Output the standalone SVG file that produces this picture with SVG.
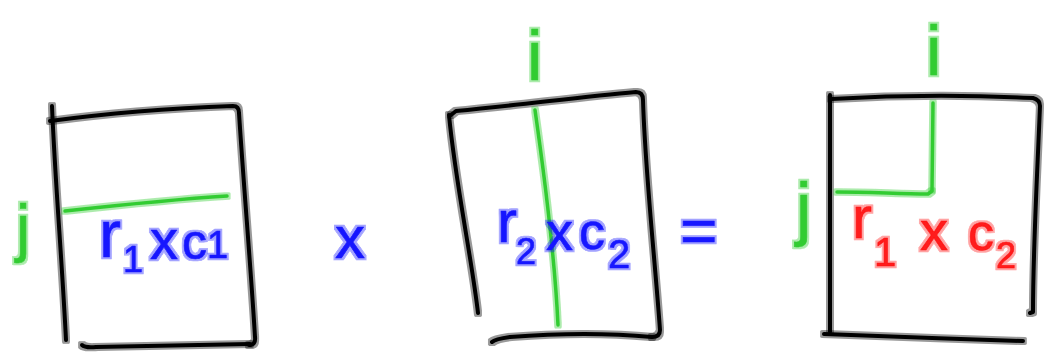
<svg xmlns="http://www.w3.org/2000/svg" width="1046" height="354" viewBox="0 0 1046 354">
<style>
.ink{fill:none;stroke-linecap:round;stroke-linejoin:round;filter:url(#marker)}
.k{stroke:#000;stroke-width:4}
.g{stroke:#33cc33;stroke-width:3.5}
.t{font-family:"Liberation Sans",Arial,sans-serif;stroke-width:0.6;stroke-linejoin:round;filter:url(#marker)}
.blue{fill:#1515ff;stroke:#1515ff}
.green{fill:#33cc33;stroke:#33cc33}
.red{fill:#ff1a1a;stroke:#ff1a1a}
</style>
<defs>
<filter id="marker" filterUnits="userSpaceOnUse" x="0" y="0" width="1046" height="354">
<feMorphology in="SourceGraphic" operator="dilate" radius="2" result="d"/>
<feComponentTransfer in="d" result="h"><feFuncA type="linear" slope="0.4"/></feComponentTransfer>
<feMerge><feMergeNode in="h"/><feMergeNode in="SourceGraphic"/></feMerge>
</filter>
</defs>
<rect width="1046" height="354" fill="#fff"/>

<g id="matrix-left">
<path class="ink k" d="M52,106 C55,180 62,260 66,340"/>
<path class="ink k" d="M50,121 C110,113 180,108 233,106 Q239,106 239,113 C244,190 251,270 255,337 Q256,345 249,345"/>
<path class="ink k" d="M82,345 Q85,348 96,347 L250,344"/>
<path class="ink g" d="M65,211 C120,205 180,199 227,196"/>
<text class="t green" x="16" y="250" font-size="64">j</text>
<text class="t blue" x="99" y="257" font-size="66">r</text>
<text class="t blue" x="123" y="272" font-size="36">1</text>
<text class="t blue" x="150" y="259" font-size="56">x</text>
<text class="t blue" x="182" y="259" font-size="50">c</text>
<text class="t blue" x="207" y="258" font-size="38">1</text>
</g>

<g id="op-times">
<text class="t blue" x="335" y="258" font-size="60">x</text>
</g>

<g id="matrix-middle">
<path class="ink k" d="M449,115 C455,180 472,260 478,313"/>
<path class="ink k" d="M451,115 L456,111 C520,105 580,97 636,92 Q643,92 643,100 C645,170 655,260 660,330 Q660,337 652,337"/>
<path class="ink k" d="M492,342 Q495,339 510,337 C560,333 610,333 652,337"/>
<path class="ink g" d="M535,110 C545,180 555,260 558,325"/>
<text class="t green" x="527" y="80" font-size="70">i</text>
<text class="t blue" x="497" y="242" font-size="60">r</text>
<text class="t blue" x="516" y="264" font-size="36">2</text>
<text class="t blue" x="546" y="250" font-size="54">x</text>
<text class="t blue" x="579" y="249" font-size="52">c</text>
<text class="t blue" x="608" y="268" font-size="40">2</text>
</g>

<g id="op-equals">
<text class="t blue" x="680" y="253" font-size="64">=</text>
</g>

<g id="matrix-right">
<path class="ink k" d="M830,95 L830,332"/>
<path class="ink k" d="M831,99 C900,95 970,95 1033,98 Q1040,100 1040,106 C1037,180 1033,250 1033,312 L1030,313"/>
<path class="ink k" d="M824,334 C880,336 960,339 1023,341"/>
<path class="ink g" d="M933,103 L932,190"/>
<path class="ink g" d="M837,192 C870,192 900,194 928,194 L932,191"/>
<text class="t green" x="926" y="75" font-size="70">i</text>
<text class="t green" x="796" y="232" font-size="70">j</text>
<text class="t red" x="852" y="238" font-size="60">r</text>
<text class="t red" x="874" y="266" font-size="40">1</text>
<text class="t red" x="920" y="250" font-size="56">x</text>
<text class="t red" x="968" y="250" font-size="52">c</text>
<text class="t red" x="996" y="268" font-size="36">2</text>
</g>

<g id="connectors"/>
</svg>
